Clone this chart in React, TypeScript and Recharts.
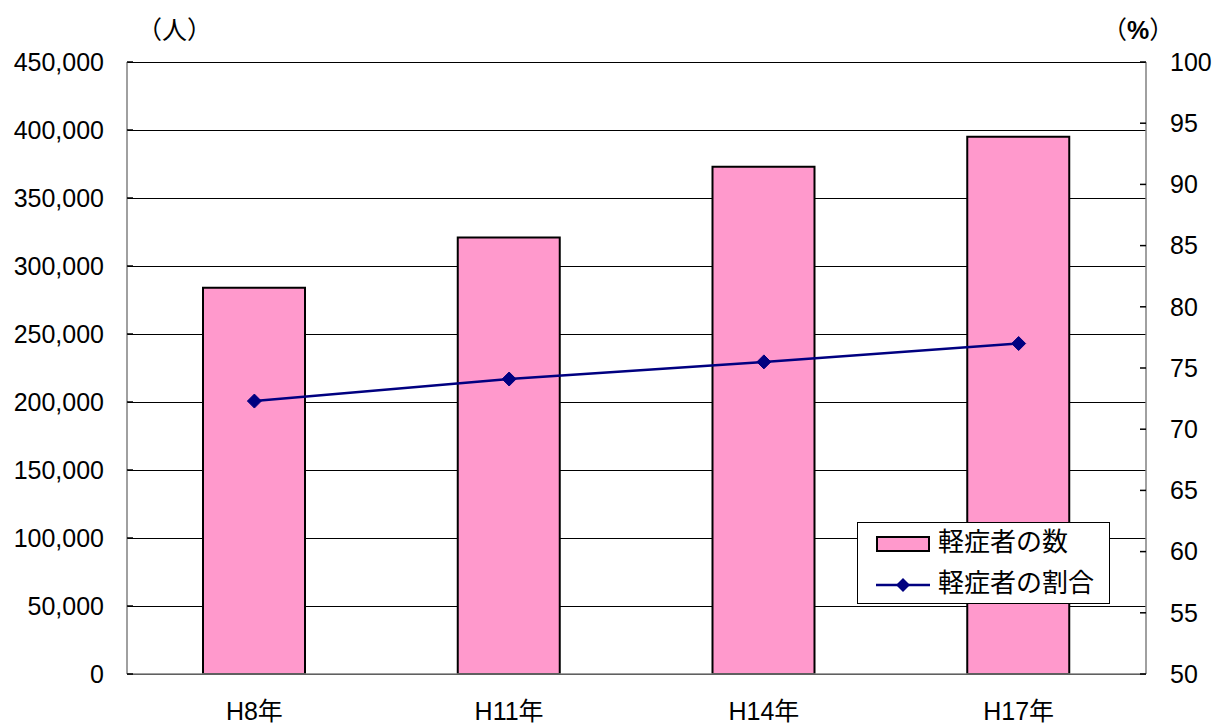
import React from 'react';
import {
  ComposedChart,
  Bar,
  Line,
  XAxis,
  YAxis,
  CartesianGrid,
  Legend,
} from 'recharts';

const categories = ['H8年', 'H11年', 'H14年', 'H17年'];
const mildCounts = [284000, 321000, 373000, 395000];
const mildRatios = [72.3, 74.1, 75.5, 77.0];
const leftTicks = [0, 50000, 100000, 150000, 200000, 250000, 300000, 350000, 400000, 450000];
const rightTicks = [50, 55, 60, 65, 70, 75, 80, 85, 90, 95, 100];
const boundaryTicks = [0, 1, 2, 3, 4];
const seriesNames = ['軽症者の数', '軽症者の割合'];

const data = categories.map((c, i) => ({
  name: c,
  count: mildCounts[i],
  ratio: mildRatios[i],
}));

const FONT = "'Liberation Sans', 'Noto Sans CJK JP', sans-serif";
const PINK = '#FF99CC';
const NAVY = '#000080';
const FS = 25;

const Diamond = (props: any) => {
  const { cx, cy } = props;
  if (cx == null || cy == null) return null;
  const r = 7;
  return (
    <polygon
      points={`${cx},${cy - r} ${cx + r},${cy} ${cx},${cy + r} ${cx - r},${cy}`}
      fill={NAVY}
      stroke={NAVY}
      strokeWidth={1}
    />
  );
};

const LegendContent = () => (
  <div
    style={{
      width: 251,
      height: 80,
      border: '1px solid #000',
      background: '#fff',
      fontFamily: FONT,
      fontSize: 26,
      color: '#000',
      position: 'relative',
    }}
  >
    <svg width={80} height={80} style={{ position: 'absolute', left: 0, top: 0 }}>
      <rect x={19} y={14} width={52} height={14} fill={PINK} stroke="#000" strokeWidth={2} />
      <line x1={18} y1={62} x2={72} y2={62} stroke={NAVY} strokeWidth={2.5} />
      <polygon points="45,55 52,62 45,69 38,62" fill={NAVY} />
    </svg>
    <div style={{ position: 'absolute', left: 80, top: 3, lineHeight: '32px', whiteSpace: 'nowrap' }}>
      {seriesNames[0]}
    </div>
    <div style={{ position: 'absolute', left: 80, top: 44, lineHeight: '32px', whiteSpace: 'nowrap' }}>
      {seriesNames[1]}
    </div>
  </div>
);

export default function App() {
  return (
    <div style={{ position: 'relative', width: 1212, height: 719, fontFamily: FONT }}>
      <div
        style={{
          position: 'absolute',
          left: 129,
          top: 2,
          fontSize: FS,
          fontFamily: FONT,
          whiteSpace: 'nowrap',
        }}
      >
        （人）
      </div>
      <div
        style={{
          position: 'absolute',
          left: 1094,
          top: 2,
          fontSize: FS,
          fontFamily: FONT,
          whiteSpace: 'nowrap',
        }}
      >
        （<b>%</b>）
      </div>
      <ComposedChart
        width={1212}
        height={719}
        data={data}
        margin={{ top: 54, right: 0, bottom: 13, left: 0 }}
        barCategoryGap="30%"
      >
        <CartesianGrid
          yAxisId="left"
          horizontal={true}
          vertical={false}
          stroke="#000"
          strokeWidth={1}
          shapeRendering="crispEdges"
        />
        <XAxis
          xAxisId="cat"
          dataKey="name"
          type="category"
          height={40}
          tickLine={false}
          tickSize={6}
          tickMargin={22}
          axisLine={{ stroke: '#808080', strokeWidth: 1.5 }}
          tick={{ fill: '#000', fontSize: FS, fontFamily: FONT }}
        />
        <XAxis
          xAxisId="bound"
          type="number"
          domain={[0, 4]}
          ticks={boundaryTicks}
          allowDataOverflow
          height={0}
          tickSize={-8}
          tick={false}
          axisLine={false}
          tickLine={{ stroke: '#555', strokeWidth: 1.5 }}
        />
        <YAxis
          yAxisId="left"
          orientation="left"
          width={119}
          domain={[0, 450000]}
          ticks={leftTicks}
          interval={0}
          tickSize={-6}
          tickMargin={29}
          tickFormatter={(v: number) => v.toLocaleString('en-US')}
          axisLine={{ stroke: '#808080', strokeWidth: 1.5 }}
          tickLine={{ stroke: '#000', strokeWidth: 1.5 }}
          tick={{ fill: '#000', fontSize: FS, fontFamily: FONT }}
        />
        <YAxis
          yAxisId="right"
          orientation="right"
          width={74}
          domain={[50, 100]}
          ticks={rightTicks}
          interval={0}
          tickSize={-6}
          tickMargin={30}
          axisLine={{ stroke: '#808080', strokeWidth: 1.5 }}
          tickLine={{ stroke: '#000', strokeWidth: 1.5 }}
          tick={{ fill: '#000', fontSize: FS, fontFamily: FONT }}
        />
        <Bar
          xAxisId="cat"
          yAxisId="left"
          dataKey="count"
          name={seriesNames[0]}
          fill={PINK}
          stroke="#000"
          strokeWidth={2}
          barSize={102}
          isAnimationActive={false}
        />
        <Line
          xAxisId="cat"
          yAxisId="right"
          dataKey="ratio"
          name={seriesNames[1]}
          type="linear"
          stroke={NAVY}
          strokeWidth={2.5}
          dot={<Diamond />}
          activeDot={false}
          isAnimationActive={false}
        />
        <Legend
          layout="vertical"
          align="center"
          verticalAlign="middle"
          content={<LegendContent />}
          wrapperStyle={{ position: 'absolute', left: 849, top: 514, width: 253, height: 82 }}
        />
      </ComposedChart>
    </div>
  );
}
